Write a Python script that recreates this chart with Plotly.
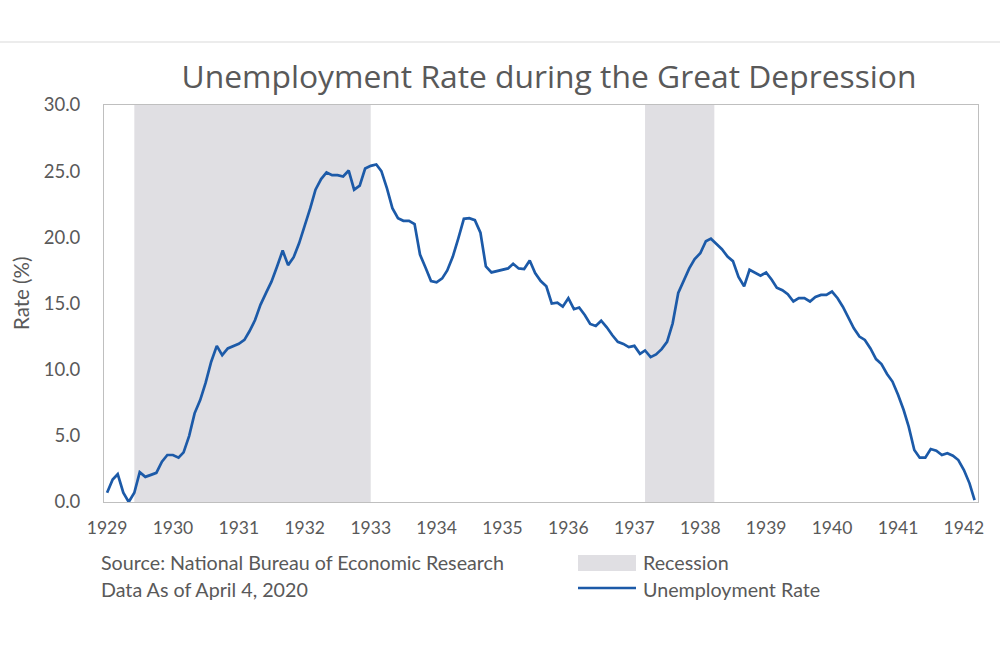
import pandas as pd
import plotly.graph_objects as go

# ---------------- data ----------------
start_month = "1929-01-01"
unemployment_rate = [
    0.7, 1.7, 2.1, 0.7, 0.0, 0.7, 2.25, 1.9, 2.05, 2.2, 3.05, 3.55,
    3.55, 3.35, 3.75, 5.0, 6.7, 7.7, 9.0, 10.6, 11.8, 11.1, 11.6, 11.75,
    11.95, 12.25, 12.9, 13.75, 14.9, 15.8, 16.65, 17.8, 19.0, 17.9, 18.5, 19.55,
    20.8, 22.2, 23.6, 24.4, 24.9, 24.7, 24.7, 24.6, 25.05, 23.6, 23.9, 25.2,
    25.4, 25.5, 25.0, 23.7, 22.2, 21.45, 21.25, 21.25, 21.0, 18.7, 17.7, 16.7,
    16.6, 16.9, 17.5, 18.55, 19.9, 21.4, 21.45, 21.3, 20.35, 17.8, 17.35, 17.45,
    17.5, 17.65, 18.0, 17.65, 17.6, 18.25, 17.3, 16.7, 16.3, 15.0, 15.06, 14.76,
    15.4, 14.57, 14.7, 14.13, 13.45, 13.3, 13.7, 13.2, 12.6, 12.1, 11.95, 11.7,
    11.8, 11.2, 11.45, 10.95, 11.15, 11.55, 12.1, 13.5, 15.8, 16.7, 17.65, 18.35,
    18.8, 19.7, 19.9, 19.5, 19.1, 18.55, 18.2, 17.0, 16.3, 17.55, 17.35, 17.1,
    17.35, 16.8, 16.2, 16.0, 15.7, 15.15, 15.4, 15.4, 15.15, 15.5, 15.65, 15.65,
    15.9, 15.4, 14.76, 13.96, 13.13, 12.5, 12.25, 11.6, 10.8, 10.43, 9.67, 9.1,
    8.1, 6.95, 5.7, 3.93, 3.35, 3.35, 4.0, 3.88, 3.55, 3.68, 3.5, 3.17,
    2.42, 1.41, 0.15,
]
months = pd.date_range(start_month, periods=len(unemployment_rate), freq="MS")

recession_start = ["1929-06-01", "1937-03-01"]
recession_end = ["1933-01-01", "1938-03-20"]

tick_years = list(range(1929, 1943))
tick_labels = [str(y) for y in tick_years]
tick_dates = [f"{y}-01-01" for y in tick_years]

y_ticks = [0, 5, 10, 15, 20, 25, 30]

# ---------------- styling ----------------
W, H = 1000, 646
L, R, T, B = 104, 22, 105, 144
PW, PH = W - L - R, H - T - B
LINE_COLOR = "#1C5AA8"
REC_COLOR = "#E0DFE3"
TEXT_COLOR = "#595959"
FONT = "Lato"


def px(x):
    return (x - L) / PW


def py(y):
    return (H - B - y) / PH


fig = go.Figure()
fig.add_trace(go.Scatter(
    x=months, y=unemployment_rate, mode="lines",
    line=dict(color=LINE_COLOR, width=2.7),
    name="Unemployment Rate", showlegend=False,
))

shapes = []
for s, e in zip(recession_start, recession_end):
    shapes.append(dict(type="rect", xref="x", yref="y", x0=s, x1=e, y0=0, y1=30,
                       fillcolor=REC_COLOR, line=dict(width=0), layer="below"))

# top divider line across the page
shapes.append(dict(type="line", xref="paper", yref="paper",
                   x0=px(0), x1=px(W), y0=py(42), y1=py(42),
                   line=dict(color="#D9D9D9", width=1)))
# legend swatches
shapes.append(dict(type="rect", xref="paper", yref="paper",
                   x0=px(578), x1=px(636), y0=py(571), y1=py(555),
                   fillcolor=REC_COLOR, line=dict(width=0)))
shapes.append(dict(type="line", xref="paper", yref="paper",
                   x0=px(578), x1=px(636), y0=py(588), y1=py(588),
                   line=dict(color=LINE_COLOR, width=2.7)))

annotations = [
    dict(text="Source: National Bureau of Economic Research", x=px(99), y=py(562),
         xanchor="left", yanchor="middle"),
    dict(text="Data As of April 4, 2020", x=px(99), y=py(589),
         xanchor="left", yanchor="middle"),
    dict(text="Recession", x=px(641), y=py(562), xanchor="left", yanchor="middle"),
    dict(text="Unemployment Rate", x=px(641), y=py(589), xanchor="left", yanchor="middle"),
]
for a in annotations:
    a.update(xref="paper", yref="paper", showarrow=False,
             font=dict(family=FONT, size=19.7, color=TEXT_COLOR))

# y-axis title
annotations.append(dict(text="Rate (%)", x=px(21), y=py(293), xref="paper", yref="paper",
                        textangle=-90, showarrow=False, xanchor="center", yanchor="middle",
                        font=dict(family=FONT, size=20.5, color=TEXT_COLOR)))

fig.update_layout(
    width=W, height=H,
    margin=dict(l=L, r=R, t=T, b=B, pad=0),
    paper_bgcolor="white", plot_bgcolor="white",
    title=dict(text="Unemployment Rate during the Great Depression",
               xref="container", x=549 / W, xanchor="center",
               yref="container", y=1 - 77 / H, yanchor="middle",
               font=dict(family="Open Sans", size=31.8, color=TEXT_COLOR)),
    shapes=shapes, annotations=annotations,
    showlegend=False,
    xaxis=dict(type="date", range=["1928-12-15", "1942-03-20"],
               tickvals=tick_dates, ticktext=tick_labels,
               showgrid=False, zeroline=False,
               showline=True, mirror=True, linecolor="#BFBFBF", linewidth=1,
               ticks="", ticklabelstandoff=10,
               tickfont=dict(family=FONT, size=17.5, color=TEXT_COLOR)),
    yaxis=dict(range=[0, 30], tickvals=y_ticks, tickformat=".1f",
               showgrid=False, zeroline=False,
               showline=True, mirror=True, linecolor="#BFBFBF", linewidth=1,
               ticks="", ticklabelstandoff=19,
               tickfont=dict(family=FONT, size=18.5, color=TEXT_COLOR)),
)

fig.write_html("out.html",
               config={"displayModeBar": False},
               post_script="document.body.style.margin='0px';document.body.style.overflow='hidden';")
